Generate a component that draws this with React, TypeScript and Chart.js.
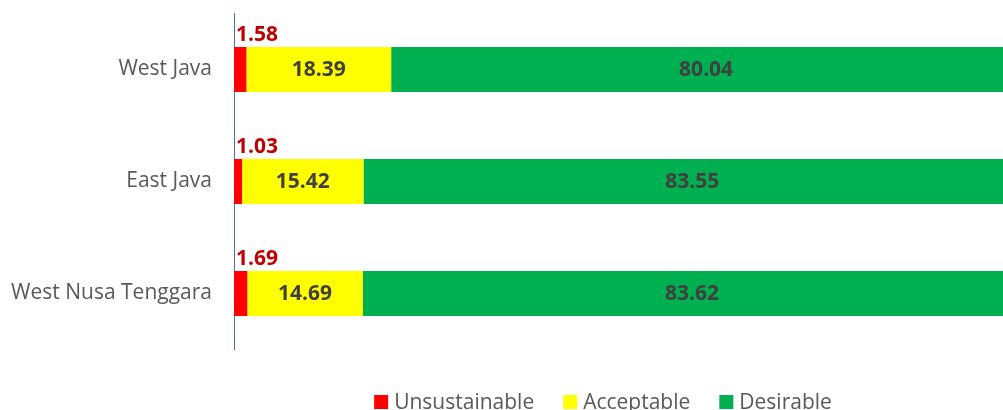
import React, { useEffect, useRef } from "react";
import { Chart, registerables } from "chart.js";

Chart.register(...registerables);

const categories = ["West Java", "East Java", "West Nusa Tenggara"];
const unsustainable = [1.58, 1.03, 1.69];
const acceptable = [18.39, 15.42, 14.69];
const desirable = [80.04, 83.55, 83.62];
const seriesNames = ["Unsustainable", "Acceptable", "Desirable"];
const seriesColors = ["#FF0000", "#FFFF00", "#00B050"];

const FONT = "'Open Sans', 'DejaVu Sans', sans-serif";

const labelPlugin = {
  id: "barLabels",
  afterDatasetsDraw(chart: any) {
    const ctx = chart.ctx;
    ctx.save();
    chart.data.datasets.forEach((ds: any, di: number) => {
      const meta = chart.getDatasetMeta(di);
      meta.data.forEach((bar: any, i: number) => {
        const v = ds.data[i];
        const txt = v.toFixed(2);
        ctx.font = `bold 21px ${FONT}`;
        if (di === 0) {
          ctx.fillStyle = "#C00000";
          ctx.textAlign = "left";
          ctx.textBaseline = "middle";
          const top = bar.y - bar.height / 2;
          ctx.fillText(txt, bar.base + 2, top - 12);
        } else {
          ctx.fillStyle = "#404040";
          ctx.textAlign = "center";
          ctx.textBaseline = "middle";
          ctx.fillText(txt, (bar.base + bar.x) / 2, bar.y + 1);
        }
      });
    });
    ctx.restore();
  },
};

const legendPlugin = {
  id: "customLegend",
  afterDraw(chart: any) {
    const ctx = chart.ctx;
    ctx.save();
    ctx.font = `21px ${FONT}`;
    const box = 14;
    const gapText = 6;
    const gapItem = 29;
    const items = chart.data.datasets.map((ds: any) => ({
      label: ds.label,
      color: ds.backgroundColor,
      w: ctx.measureText(ds.label).width,
    }));
    let total = 0;
    items.forEach((it: any, i: number) => {
      total += box + gapText + it.w + (i < items.length - 1 ? gapItem : 0);
    });
    let x = 603 - total / 2;
    const baseline = 409;
    items.forEach((it: any) => {
      ctx.fillStyle = it.color;
      ctx.fillRect(x, baseline - box, box, box);
      ctx.fillStyle = "#595959";
      ctx.textAlign = "left";
      ctx.textBaseline = "alphabetic";
      ctx.fillText(it.label, x + box + gapText, baseline);
      x += box + gapText + it.w + gapItem;
    });
    ctx.restore();
  },
};

export default function App() {
  const ref = useRef<HTMLCanvasElement | null>(null);
  useEffect(() => {
    if (!ref.current) return;
    const values = [unsustainable, acceptable, desirable];
    const chart = new Chart(ref.current, {
      type: "bar",
      data: {
        labels: categories,
        datasets: seriesNames.map((name, i) => ({
          label: name,
          data: values[i],
          backgroundColor: seriesColors[i],
          borderWidth: 0,
          categoryPercentage: 1,
          barPercentage: 0.4,
        })),
      },
      options: {
        indexAxis: "y",
        animation: false,
        responsive: true,
        maintainAspectRatio: false,
        layout: { padding: { top: 13.5, bottom: 70.5, left: 0, right: 0 } },
        plugins: {
          legend: { display: false },
          tooltip: { enabled: false },
        },
        scales: {
          x: {
            stacked: true,
            min: 0,
            max: 100,
            display: false,
          },
          y: {
            stacked: true,
            grid: { display: false, drawTicks: false },
            border: { display: true, color: "#4472C4", width: 1 },
            ticks: {
              color: "#595959",
              font: { family: FONT, size: 21 },
              padding: 22,
            },
            afterFit: (s: any) => {
              s.width = 234;
              s.paddingTop = 0;
              s.paddingBottom = 0;
            },
          },
        },
      },
      plugins: [labelPlugin, legendPlugin],
    });
    return () => chart.destroy();
  }, []);
  return (
    <div
      style={{
        position: "fixed",
        left: 0,
        top: 0,
        width: 1021,
        height: 420,
        background: "#fff",
      }}
    >
      <canvas ref={ref} />
    </div>
  );
}
